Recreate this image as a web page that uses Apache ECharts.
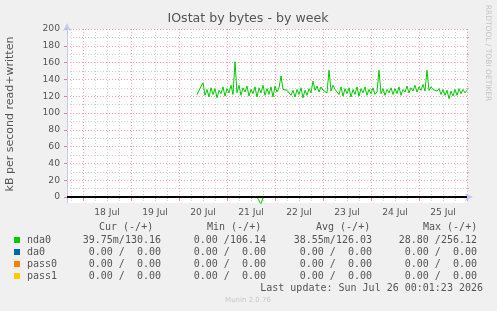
<!DOCTYPE html>
<html>
<head>
<meta charset="utf-8">
<script src="https://cdn.jsdelivr.net/npm/echarts@6/dist/echarts.min.js"></script>
<style>
  html, body { margin: 0; background: #f0f0f0; }
  #chart { width: 497px; height: 311px; }
</style>
</head>
<body>
<div id="chart"></div>
<script>
// x is counted in hours from Jul 17 00:00
const X_MIN = 16;   // Jul 17 16:00
const X_MAX = 216;  // Jul 26 00:00
const DATA_START = 81; // first hour with nda0 samples (Jul 20 09:00)

const dayLabels = ["18 Jul", "19 Jul", "20 Jul", "21 Jul", "22 Jul", "23 Jul", "24 Jul", "25 Jul"];
const dayStarts = [24, 48, 72, 96, 120, 144, 168, 192, 216];
const dayNoons = [36, 60, 84, 108, 132, 156, 180, 204];
const yTicks = [0, 20, 40, 60, 80, 100, 120, 140, 160, 180, 200];
const yMinor = [10, 30, 50, 70, 90, 110, 130, 150, 170, 190];

// nda0 written, kB/s, one value per hour
const writeValues = [
  122, 127, 125, 136, 121, 128, 119, 130, 122, 129,
  118, 127, 123, 131, 120, 129, 124, 133, 122, 161,
  124, 133, 121, 130, 125, 132, 120, 128, 123, 131,
  119, 130, 124, 133, 121, 129, 122, 131, 119, 132,
  125, 130, 144, 128, 130, 127, 129, 121, 127, 119,
  128, 122, 130, 118, 127, 121, 129, 124, 138, 127,
  132, 125, 131, 127, 129, 124, 151, 126, 133, 128,
  130, 122, 131, 120, 129, 123, 130, 119, 128, 122,
  131, 120, 129, 124, 131, 121, 128, 123, 130, 122,
  125, 151, 123, 129, 121, 128, 124, 130, 122, 129,
  123, 131, 121, 128, 125, 132, 124, 130, 126, 133,
  125, 131, 127, 134, 126, 151, 127, 131, 128, 130,
  126, 129, 122, 128, 121, 127, 117, 126, 120, 128,
  121, 129, 123, 128, 124, 127
];

// nda0 read, kB/s, drawn below zero
const readValues = [
  0, 0, 0, 0, 0, 0, 0, 0, 0, 0,
  0, 0, 0, 0, 0, 0, 0, 0, 0, 0,
  0, 0, 0, 0, 0, 0, 0, 0, 0, 0,
  0, 0, 9, 0, 0, 0, 0, 0, 0, 0,
  0, 0, 0, 0, 0, 0, 0, 0, 0, 0,
  0, 0, 0, 0, 0, 0, 0, 0, 0, 0,
  0, 0, 0, 0, 0, 0, 0, 0, 0, 0,
  0, 0, 0, 0, 0, 0, 0, 0, 0, 0,
  0, 0, 0, 0, 0, 0, 0, 0, 0, 0,
  0, 0, 0, 0, 0, 0, 0, 0, 0, 0,
  0, 0, 0, 0, 0, 0, 0, 0, 0, 0,
  0, 0, 0, 0, 0, 0, 0, 0, 0, 0,
  0, 0, 0, 0, 0, 0, 0, 0, 0, 0,
  0, 0, 0, 0, 0, 0
];

const devices = ["nda0", "da0", "pass0", "pass1"];
const deviceColors = ["#00cc00", "#0066b3", "#ff8000", "#ffcc00"];
const curText = ["39.75m/130.16", "0.00 /  0.00", "0.00 /  0.00", "0.00 /  0.00"];
const minText = ["0.00 /106.14", "0.00 /  0.00", "0.00 /  0.00", "0.00 /  0.00"];
const avgText = ["38.55m/126.03", "0.00 /  0.00", "0.00 /  0.00", "0.00 /  0.00"];
const maxText = ["28.80 /256.12", "0.00 /  0.00", "0.00 /  0.00", "0.00 /  0.00"];

const sixHourMarks = [];
for (let h = 18; h <= X_MAX; h += 6) {
  if (h % 24 !== 0) sixHourMarks.push(h);
}

const SANS = "DejaVu Sans";
const MONO = "DejaVu Sans Mono";
const TEXT = "#555";
const AXIS = "#c4caf2";
const RED_GRID = "#eba3a3";
const GRAY_GRID = "#d2d2d2";

const chart = echarts.init(document.getElementById("chart"), null, { renderer: "canvas" });

const graphic = [
  { type: "text", x: 248, y: 19, style: { text: "IOstat by bytes - by week", font: `12.6px "${SANS}"`, fill: TEXT, textAlign: "center", textVerticalAlign: "middle" } },
  { type: "text", x: 10, y: 114, rotation: Math.PI / 2, style: { text: "kB per second read+written", font: `11px "${SANS}"`, fill: TEXT, textAlign: "center", textVerticalAlign: "middle" } },
  { type: "text", x: 488, y: 53, rotation: -Math.PI / 2, style: { text: "RRDTOOL / TOBI OETIKER", font: `7.5px "${SANS}"`, fill: "#c4c4c4", textAlign: "center", textVerticalAlign: "middle" } },
  { type: "text", x: 99, y: 227, style: { text: "Cur (-/+)", font: `10px "${MONO}"`, fill: TEXT, textVerticalAlign: "middle" } },
  { type: "text", x: 207, y: 227, style: { text: "Min (-/+)", font: `10px "${MONO}"`, fill: TEXT, textVerticalAlign: "middle" } },
  { type: "text", x: 316, y: 227, style: { text: "Avg (-/+)", font: `10px "${MONO}"`, fill: TEXT, textVerticalAlign: "middle" } },
  { type: "text", x: 423, y: 227, style: { text: "Max (-/+)", font: `10px "${MONO}"`, fill: TEXT, textVerticalAlign: "middle" } },
  { type: "text", x: 483, y: 288, style: { text: "Last update: Sun Jul 26 00:01:23 2026", font: `10px "${MONO}"`, fill: TEXT, textAlign: "right", textVerticalAlign: "middle" } },
  { type: "text", x: 248, y: 300, style: { text: "Munin 2.0.76", font: `7px "${SANS}"`, fill: "#c8c8c8", textAlign: "center", textVerticalAlign: "middle" } },
];

devices.forEach((name, i) => {
  const y = 240 + i * 12;
  graphic.push(
    { type: "rect", shape: { x: 14, y: y - 3, width: 6, height: 6 }, style: { fill: deviceColors[i] } },
    { type: "text", x: 27, y, style: { text: name, font: `10px "${MONO}"`, fill: TEXT, textVerticalAlign: "middle" } },
    { type: "text", x: 161, y, style: { text: curText[i], font: `10px "${MONO}"`, fill: TEXT, textAlign: "right", textVerticalAlign: "middle" } },
    { type: "text", x: 266, y, style: { text: minText[i], font: `10px "${MONO}"`, fill: TEXT, textAlign: "right", textVerticalAlign: "middle" } },
    { type: "text", x: 372, y, style: { text: avgText[i], font: `10px "${MONO}"`, fill: TEXT, textAlign: "right", textVerticalAlign: "middle" } },
    { type: "text", x: 477, y, style: { text: maxText[i], font: `10px "${MONO}"`, fill: TEXT, textAlign: "right", textVerticalAlign: "middle" } }
  );
});

chart.setOption({
  animation: false,
  backgroundColor: "#f0f0f0",
  grid: {
    left: 67, right: 30, top: 29, bottom: 108,
    show: true, backgroundColor: "#ffffff", borderWidth: 0,
  },
  xAxis: [
    {
      type: "value", min: X_MIN, max: X_MAX, position: "bottom",
      axisLine: { show: true, lineStyle: { color: AXIS }, symbol: ["none", "arrow"], symbolSize: [6, 8], symbolOffset: [0, 6] },
      axisTick: { show: true, customValues: sixHourMarks, length: 2, lineStyle: { color: "#bbb" } },
      axisLabel: { show: false },
      splitLine: { show: true, lineStyle: { color: GRAY_GRID, type: [1, 2] } },
    },
    {
      type: "value", min: X_MIN, max: X_MAX, position: "bottom",
      axisLine: { show: false },
      axisTick: { show: true, customValues: dayStarts, length: 3, lineStyle: { color: "#e88080" } },
      axisLabel: {
        customValues: dayNoons, margin: 5,
        color: TEXT, fontFamily: SANS, fontSize: 9.2,
        formatter: (v) => dayLabels[dayNoons.indexOf(v)],
      },
      splitLine: { show: true, lineStyle: { color: RED_GRID, type: [1, 2] } },
    },
  ],
  yAxis: [
    {
      type: "value", min: -7.2, max: 200,
      axisLine: { show: true, lineStyle: { color: AXIS }, symbol: ["none", "arrow"], symbolSize: [6, 8], symbolOffset: [0, 6] },
      axisTick: { show: true, customValues: yTicks, length: 3, lineStyle: { color: "#e88080" } },
      axisLabel: { customValues: yTicks, margin: 7, color: TEXT, fontFamily: SANS, fontSize: 9.2 },
      splitLine: { show: true, lineStyle: { color: RED_GRID, type: [1, 2] } },
    },
    {
      type: "value", min: -7.2, max: 200,
      axisLine: { show: false },
      axisTick: { show: true, customValues: yMinor, length: 2, lineStyle: { color: "#bbb" } },
      axisLabel: { show: false },
      splitLine: { show: true, lineStyle: { color: GRAY_GRID, type: [1, 2] } },
    },
  ],
  series: [
    {
      name: "nda0 write", type: "line", xAxisIndex: 0, yAxisIndex: 0,
      showSymbol: false, z: 3,
      lineStyle: { color: deviceColors[0], width: 1 },
      data: writeValues.map((v, i) => [DATA_START + i, v]),
    },
    {
      name: "nda0 read", type: "line", xAxisIndex: 0, yAxisIndex: 0,
      showSymbol: false, z: 2,
      lineStyle: { color: deviceColors[0], width: 1 },
      data: readValues.map((v, i) => [DATA_START + i, -v]),
    },
    {
      // zero rule drawn on top of the flat series
      name: "zero", type: "line", xAxisIndex: 0, yAxisIndex: 0,
      z: 6, data: [],
      markLine: {
        silent: true, symbol: "none", label: { show: false },
        lineStyle: { color: "#000", width: 2, type: "solid" },
        data: [{ yAxis: 0 }],
      },
    },
  ],
  graphic,
});
</script>
</body>
</html>
